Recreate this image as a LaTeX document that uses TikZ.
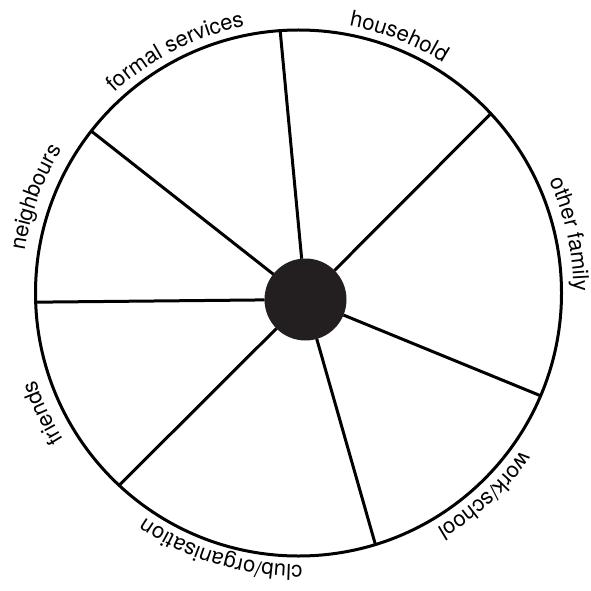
\documentclass[tikz,border=0pt]{standalone}
\usepackage{fontspec}
\setmainfont{TeX Gyre Heros}
\usetikzlibrary{decorations.text}
\definecolor{hubblack}{RGB}{35,31,32}

\tikzset{
  spoke/.style={line width=3pt},
  ringlabel/.style={decorate, decoration={text along path, text align=center,
      text={|\fontsize{22}{26}\selectfont|#1}}}
}

\begin{document}
\begin{tikzpicture}[x=1pt, y=1pt]
      \useasboundingbox (0,0) rectangle (591,590);
      \coordinate (c) at (298.5,297);
      \node[draw, circle, line width=3pt, minimum size=526pt, inner sep=0pt, outer sep=0pt] (wheel) at (c) {};
      \node[circle, fill=hubblack, minimum size=82pt, inner sep=0pt, outer sep=0pt] (hub) at (305.5,290.5) {};
      \foreach \a in {94,43,337,287,227,182,142}
        \draw[spoke] (wheel.\a) -- (hub);
      \path[ringlabel=household] (c) ++(108.6:272) arc[start angle=108.6, end angle=28.6, radius=272];
      \path[ringlabel=formal services] (c) ++(157:272) arc[start angle=157, end angle=77, radius=272];
      \path[ringlabel=neighbours] (c) ++(200:277) arc[start angle=200, end angle=120, radius=277];
      \path[ringlabel=friends] (c) ++(245.1:277) arc[start angle=245.1, end angle=165.1, radius=277];
      \path[ringlabel=club/organisation] (c) ++(-66.7:272) arc[start angle=-66.7, end angle=-146.7, radius=272];
      \path[ringlabel=work/school] (c) ++(-7.4:273) arc[start angle=-7.4, end angle=-87.4, radius=273];
      \path[ringlabel=other family] (c) ++(52.2:275) arc[start angle=52.2, end angle=-27.8, radius=275];
\end{tikzpicture}
\end{document}
